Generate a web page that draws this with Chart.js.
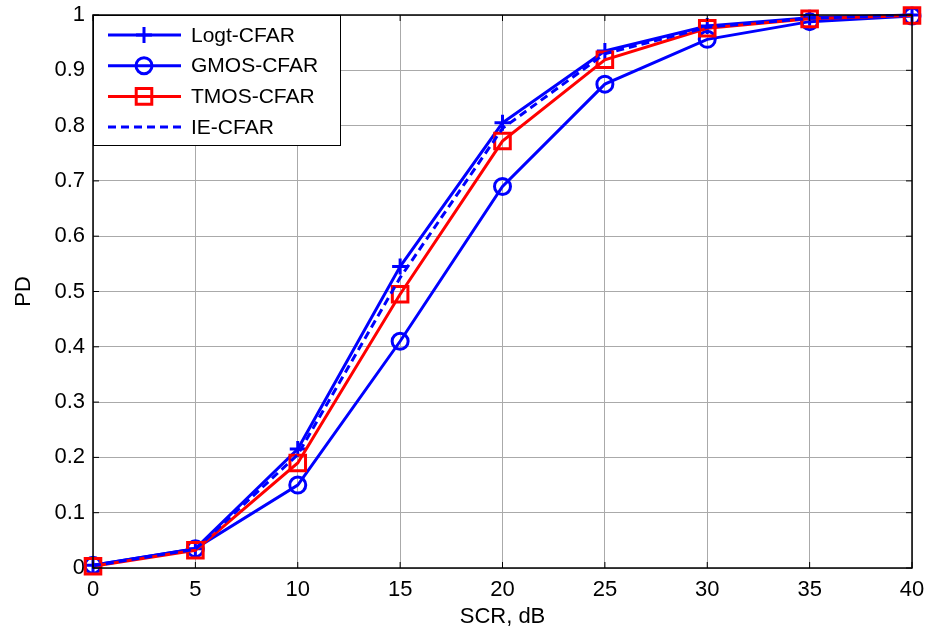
<!DOCTYPE html>
<html>
<head>
<meta charset="utf-8">
<script src="https://cdn.jsdelivr.net/npm/chart.js@4"></script>
<style>
  html, body { margin: 0; padding: 0; background: #fff; }
  #wrap { width: 928px; height: 630px; }
</style>
</head>
<body>
<div id="wrap"><canvas id="pdChart" width="928" height="630"></canvas></div>
<script>
const scrValues = [0, 5, 10, 15, 20, 25, 30, 35, 40];
const logtPd = [0.005, 0.035, 0.215, 0.545, 0.805, 0.935, 0.980, 0.995, 1.000];
const gmosPd = [0.005, 0.035, 0.150, 0.410, 0.690, 0.875, 0.956, 0.988, 0.998];
const tmosPd = [0.003, 0.032, 0.190, 0.495, 0.772, 0.919, 0.976, 0.993, 0.999];
const iePd   = [0.004, 0.034, 0.205, 0.525, 0.795, 0.930, 0.978, 0.994, 1.000];
const seriesNames = ['Logt-CFAR', 'GMOS-CFAR', 'TMOS-CFAR', 'IE-CFAR'];

const FONT = 'Liberation Sans, Arial, sans-serif';
const toPts = (ys) => ys.map((y, i) => ({ x: scrValues[i], y: y }));

// MATLAB style box, inward ticks and legend
const matlabFrame = {
  id: 'matlabFrame',
  afterDatasetsDraw(chart) {
    const { ctx, chartArea: a, scales } = chart;
    ctx.save();
    ctx.strokeStyle = '#000';
    ctx.lineWidth = 1.5;
    ctx.strokeRect(a.left, a.top, a.right - a.left, a.bottom - a.top);
    ctx.lineWidth = 1;
    ctx.beginPath();
    scales.x.ticks.forEach(t => {
      const px = scales.x.getPixelForValue(t.value);
      ctx.moveTo(px, a.bottom); ctx.lineTo(px, a.bottom - 6);
      ctx.moveTo(px, a.top); ctx.lineTo(px, a.top + 6);
    });
    scales.y.ticks.forEach(t => {
      const py = scales.y.getPixelForValue(t.value);
      ctx.moveTo(a.left, py); ctx.lineTo(a.left + 6, py);
      ctx.moveTo(a.right, py); ctx.lineTo(a.right - 6, py);
    });
    ctx.stroke();

    // legend box
    const lx = a.left, ly = a.top, lw = 247, lh = 130;
    ctx.fillStyle = '#fff';
    ctx.fillRect(lx, ly, lw, lh);
    ctx.strokeStyle = '#000';
    ctx.lineWidth = 1;
    ctx.strokeRect(lx + 0.5, ly + 0.5, lw, lh);
    ctx.font = '21px ' + FONT;
    ctx.textBaseline = 'middle';
    chart.data.datasets.forEach((ds, i) => {
      const y = ly + 20 + i * 30.7;
      ctx.strokeStyle = ds.borderColor;
      ctx.lineWidth = 3;
      ctx.setLineDash(ds.borderDash || []);
      ctx.beginPath();
      ctx.moveTo(lx + 15, y); ctx.lineTo(lx + 88, y);
      ctx.stroke();
      ctx.setLineDash([]);
      if (ds.pointRadius > 0) {
        ctx.fillStyle = 'rgba(0,0,0,0)';
        ctx.lineWidth = 3;
        Chart.helpers.drawPoint(ctx, {
          pointStyle: ds.pointStyle, radius: ds.pointRadius, rotation: 0, borderWidth: 3
        }, lx + 51, y);
      }
      ctx.fillStyle = '#000';
      ctx.fillText(ds.label, lx + 98, y + 1);
    });
    ctx.restore();
  }
};

new Chart(document.getElementById('pdChart'), {
  type: 'line',
  data: {
    datasets: [
      {
        label: seriesNames[0], data: toPts(logtPd),
        borderColor: '#0000ff', backgroundColor: 'transparent', borderWidth: 3,
        pointStyle: 'cross', pointRadius: 8, pointBorderWidth: 3, order: 4, clip: false
      },
      {
        label: seriesNames[1], data: toPts(gmosPd),
        borderColor: '#0000ff', backgroundColor: 'transparent', borderWidth: 3,
        pointStyle: 'circle', pointRadius: 8, pointBorderWidth: 3, order: 3, clip: false
      },
      {
        label: seriesNames[2], data: toPts(tmosPd),
        borderColor: '#ff0000', backgroundColor: 'transparent', borderWidth: 3,
        pointStyle: 'rect', pointRadius: 11, pointBorderWidth: 3, order: 2, clip: false
      },
      {
        label: seriesNames[3], data: toPts(iePd),
        borderColor: '#0000ff', backgroundColor: 'transparent', borderWidth: 3,
        borderDash: [8, 5], pointRadius: 0, order: 1, clip: false
      }
    ]
  },
  options: {
    responsive: false,
    animation: false,
    events: [],
    layout: { padding: { left: 0, right: 16, top: 15, bottom: 0 } },
    plugins: { legend: { display: false }, tooltip: { enabled: false } },
    scales: {
      x: {
        type: 'linear', min: 0, max: 40,
        afterFit: s => { s.height = 62; s.paddingLeft = 0; s.paddingRight = 0; },
        ticks: { stepSize: 5, color: '#000', font: { size: 22, family: FONT }, padding: 9, maxRotation: 0 },
        grid: { color: '#aaaaaa', lineWidth: 1, drawTicks: false },
        border: { display: false },
        title: { display: true, text: 'SCR, dB', color: '#000', font: { size: 22, family: FONT }, padding: { top: 0, bottom: 0 } }
      },
      y: {
        min: 0, max: 1,
        afterFit: s => { s.width = 93; s.paddingTop = 0; s.paddingBottom = 0; },
        ticks: {
          stepSize: 0.1, color: '#000', font: { size: 22, family: FONT }, padding: 8,
          callback: v => String(Math.round(v * 10) / 10)
        },
        grid: { color: '#aaaaaa', lineWidth: 1, drawTicks: false },
        border: { display: false },
        title: { display: true, text: 'PD', color: '#000', font: { size: 22, family: FONT }, padding: 11 }
      }
    }
  },
  plugins: [matlabFrame]
});
</script>
</body>
</html>
